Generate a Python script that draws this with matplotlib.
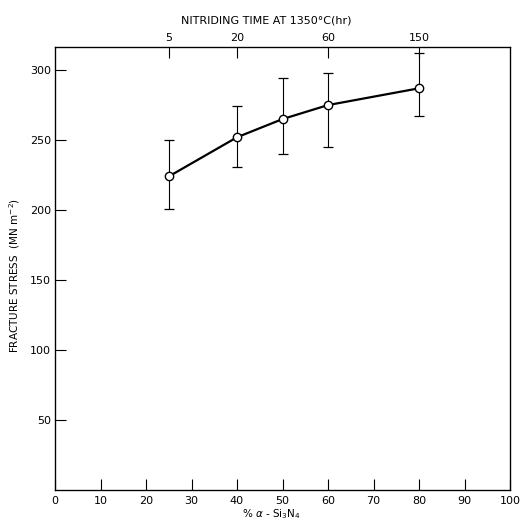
import matplotlib
matplotlib.use("Agg")
import matplotlib.pyplot as plt
import numpy as np

# data
alpha_pct = [25, 40, 50, 60, 80]
stress = [224, 252, 265, 275, 287]
stress_low = [201, 231, 240, 245, 267]
stress_high = [250, 274, 294, 298, 312]

x_ticks = [0, 10, 20, 30, 40, 50, 60, 70, 80, 90, 100]
y_ticks = [50, 100, 150, 200, 250, 300]
top_tick_pos = [25, 40, 60, 80]
top_tick_labels = ["5", "20", "60", "150"]

plt.rcParams['font.family'] = ['DejaVu Sans']

fig = plt.figure(figsize=(5.30, 5.22), dpi=100)
ax = fig.add_axes([55/530, 32/522, 455/530, 443/522])

yerr = [np.array(stress) - np.array(stress_low), np.array(stress_high) - np.array(stress)]
ax.errorbar(alpha_pct, stress, yerr=yerr, fmt='none', ecolor='black',
            elinewidth=0.8, capsize=3.5, capthick=0.9, zorder=2)
ax.plot(alpha_pct, stress, color='black', lw=1.6, marker='o', ms=6,
        mfc='white', mec='black', mew=1.0, zorder=3)

ax.set_xlim(0, 100)
ax.set_ylim(0, 316.5)
ax.set_xticks(x_ticks)
ax.set_xticklabels([str(v) for v in x_ticks])
ax.set_yticks(y_ticks)
ax.set_yticklabels([str(v) for v in y_ticks])
ax.tick_params(axis='both', direction='in', length=8, width=0.8, labelsize=8)
ax.tick_params(axis='x', pad=4)
ax.tick_params(axis='y', pad=3)
for s in ax.spines.values():
    s.set_linewidth(0.9)

ax.set_xlabel(r"% $\alpha$ - Si$_3$N$_4$", fontsize=7.5, labelpad=2)
ax.xaxis.set_label_coords(0.475, -0.038)
ax.set_ylabel(r"FRACTURE STRESS  (MN m$^{-2}$)", fontsize=7.5, labelpad=8)
ax.yaxis.set_label_coords(-0.072, 0.485)

ax2 = ax.twiny()
ax2.set_xlim(ax.get_xlim())
ax2.set_xticks(top_tick_pos)
ax2.set_xticklabels(top_tick_labels)
ax2.tick_params(axis='x', direction='in', length=8, width=0.8, labelsize=8, pad=3)
ax2.set_xlabel("NITRIDING TIME AT 1350°C(hr)", fontsize=8, labelpad=6)
ax2.xaxis.set_label_coords(0.465, 1.052)

fig.savefig("out.png", dpi=100)
